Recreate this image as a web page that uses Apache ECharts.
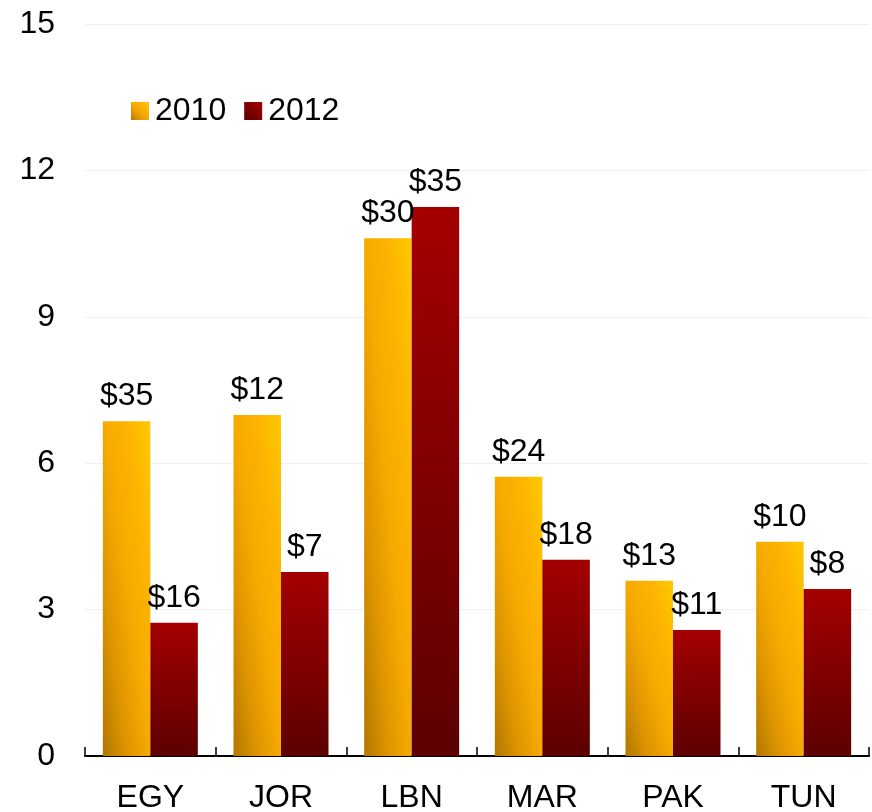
<!DOCTYPE html>
<html>
<head>
<meta charset="utf-8">
<script src="https://cdn.jsdelivr.net/npm/echarts@6/dist/echarts.min.js"></script>
<style>
  html, body { margin: 0; padding: 0; background: #fff; }
  #chart { width: 872px; height: 812px; }
</style>
</head>
<body>
<div id="chart"></div>
<script>
var categories = ["EGY", "JOR", "LBN", "MAR", "PAK", "TUN"];
var values2010 = [6.86, 6.99, 10.61, 5.72, 3.59, 4.39];
var values2012 = [2.73, 3.77, 11.25, 4.02, 2.58, 3.42];
var labels2010 = ["$35", "$12", "$30", "$24", "$13", "$10"];
var labels2012 = ["$16", "$7", "$35", "$18", "$11", "$8"];
var yTicks = [0, 3, 6, 9, 12, 15];

var font = "'Liberation Sans', Arial, sans-serif";
var BAR_W = 47.5;

var goldStops = [
  { offset: 0, color: "#b27600" },
  { offset: 0.25, color: "#dc9400" },
  { offset: 0.5, color: "#f6a900" },
  { offset: 0.75, color: "#fdb400" },
  { offset: 1, color: "#ffc900" }
];
var redStops = [
  { offset: 0, color: "#a40000" },
  { offset: 1, color: "#5c0000" }
];

// diagonal gradient that follows the bar's own corners (like office charts)
function goldFor(w, h) {
  var d = h * h + w * w;
  return new echarts.graphic.LinearGradient(0, 1, 2 * h * h / d, 1 - 2 * w * w / d, goldStops);
}

function buildSeries(name, values, labels, color) {
  return {
    name: name,
    type: "bar",
    barWidth: BAR_W,
    barGap: "0%",
    data: values.map(function (v, i) {
      return { value: v, label: { formatter: labels[i] } };
    }),
    itemStyle: { color: color },
    label: {
      show: true,
      position: "top",
      distance: 9,
      color: "#000",
      fontSize: 32,
      fontFamily: font
    }
  };
}

var myChart = echarts.init(document.getElementById("chart"), null, { renderer: "canvas" });
myChart.setOption({
  animation: false,
  backgroundColor: "#fff",
  textStyle: { fontFamily: font },
  grid: { left: 85, right: 3, top: 24, bottom: 56, containLabel: false, outerBoundsMode: "none" },
  legend: {
    left: 126,
    top: 90,
    itemWidth: 18,
    itemHeight: 18,
    itemGap: 18,
    icon: "rect",
    textStyle: { fontSize: 32, color: "#000", fontFamily: font, padding: [0, 0, 0, 1] },
    data: [
      { name: "2010", itemStyle: { color: new echarts.graphic.LinearGradient(0, 1, 1, 0, goldStops) } },
      { name: "2012", itemStyle: { color: new echarts.graphic.LinearGradient(0, 1, 1, 0, [
        { offset: 0, color: "#5c0000" }, { offset: 1, color: "#a40000" }]) } }
    ]
  },
  xAxis: {
    type: "category",
    data: categories,
    axisLine: { show: true, lineStyle: { color: "#000", width: 2 } },
    axisTick: { show: true, inside: true, length: 9, lineStyle: { color: "#000", width: 1.5 } },
    axisLabel: { color: "#000", fontSize: 32, fontFamily: font, margin: 26 }
  },
  yAxis: {
    type: "value",
    min: yTicks[0],
    max: yTicks[yTicks.length - 1],
    interval: yTicks[1] - yTicks[0],
    axisLine: { show: false },
    axisTick: { show: false },
    axisLabel: { color: "#000", fontSize: 32, fontFamily: font, margin: 30 },
    splitLine: { show: true, lineStyle: { color: "#f0f0f0", width: 1 } }
  },
  series: [
    buildSeries("2010", values2010, labels2010, new echarts.graphic.LinearGradient(0, 1, 1, 0, goldStops)),
    buildSeries("2012", values2012, labels2012, new echarts.graphic.LinearGradient(0, 0, 0, 1, redStops))
  ]
});

// second pass: give each gold bar a gradient fitted to its own pixel size
var goldData = values2010.map(function (v, i) {
  var top = myChart.convertToPixel({ gridIndex: 0 }, [i, v]);
  var base = myChart.convertToPixel({ gridIndex: 0 }, [i, 0]);
  var h = Math.abs(base[1] - top[1]);
  return { value: v, label: { formatter: labels2010[i] }, itemStyle: { color: goldFor(BAR_W, h) } };
});
myChart.setOption({ series: [{ name: "2010", data: goldData }] });
</script>
</body>
</html>
